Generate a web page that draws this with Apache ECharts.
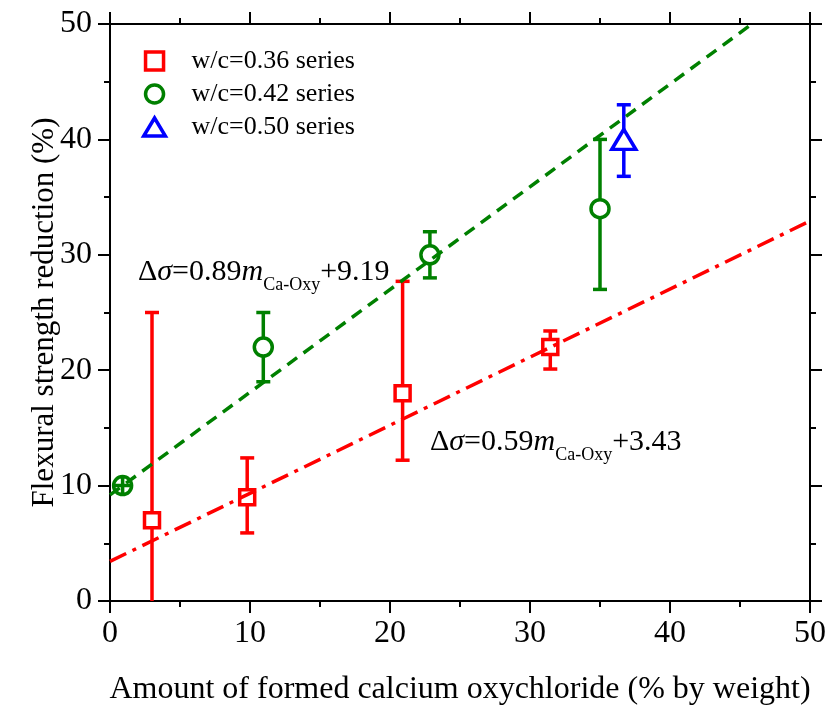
<!DOCTYPE html>
<html>
<head>
<meta charset="utf-8">
<script src="https://cdn.jsdelivr.net/npm/echarts@6/dist/echarts.min.js"></script>
<style>html,body{margin:0;padding:0;background:#fff}#c{width:840px;height:705px}</style>
</head>
<body>
<div id="c"></div>
<script>
// ---- data ----
const seriesNames = ['w/c=0.36 series', 'w/c=0.42 series', 'w/c=0.50 series'];
const redX    = [3.0, 9.8, 20.9, 31.45];
const redY    = [7.0, 9.0, 18.0, 22.0];
const redLow  = [0.0, 5.9, 12.2, 20.1];
const redHigh = [25.0, 12.4, 27.7, 23.4];
const greenX    = [0.9, 10.95, 22.85, 35.0];
const greenY    = [10.0, 22.0, 30.0, 34.0];
const greenLow  = [10.0, 19.0, 28.0, 27.0];
const greenHigh = [10.0, 25.0, 32.0, 40.0];
const blueX    = [36.7];
const blueY    = [40.0];
const blueLow  = [36.8];
const blueHigh = [43.0];
// fit lines (end points of the drawn regression lines)
const greenFit = [[0, 9.19], [45.85, 50]];
const redFit   = [[0, 3.43], [50, 32.93]];
const eqGreen = ['0.89', '9.19'];
const eqRed   = ['0.59', '3.43'];
const xTickMin = 0, xTickMax = 50, xTickStep = 10;
const yTickMin = 0, yTickMax = 50, yTickStep = 10;

const FONT = 'Liberation Serif';
const RED = '#ff0000', GREEN = '#008000', BLUE = '#0000ff';

function pts(xs, ys) { return xs.map((x, i) => [x, ys[i]]); }
function errs(xs, lo, hi) { return xs.map((x, i) => [x, lo[i], hi[i]]); }

function errRender(color) {
  return function (params, api) {
    const x = api.value(0), lo = api.value(1), hi = api.value(2);
    const a = api.coord([x, lo]), b = api.coord([x, hi]);
    const cap = 7;
    const st = { stroke: color, lineWidth: 3.5, fill: null };
    const ch = [
      { type: 'line', shape: { x1: a[0], y1: a[1], x2: b[0], y2: b[1] }, style: st },
      { type: 'line', shape: { x1: b[0] - cap, y1: b[1], x2: b[0] + cap, y2: b[1] }, style: st }
    ];
    if (lo > yTickMin) ch.push({ type: 'line', shape: { x1: a[0] - cap, y1: a[1], x2: a[0] + cap, y2: a[1] }, style: st });
    return { type: 'group', children: ch };
  };
}

const axisCommon = {
  type: 'value',
  nameMoveOverlap: false,
  axisLine: { show: true, onZero: false, lineStyle: { color: '#000', width: 2 } },
  axisTick: { show: true, inside: false, length: 12, lineStyle: { color: '#000', width: 2 } },
  minorTick: { show: true, splitNumber: 2, length: 6, lineStyle: { color: '#000', width: 2 } },
  splitLine: { show: false },
  minorSplitLine: { show: false }
};
const lab = { show: true, color: '#000', fontFamily: FONT, fontSize: 32 };

const circlePlus = 'path://M0,10 A10,10 0 1,1 20,10 A10,10 0 1,1 0,10 Z M10,0 L10,20 M0,10 L20,10';

const greenData = pts(greenX, greenY).map((p, i) => i === 0 ? { value: p, symbol: circlePlus } : p);

const option = {
  animation: false,
  backgroundColor: '#fff',
  grid: { left: 110, right: 30, top: 24, bottom: 104, containLabel: false, outerBoundsMode: 'none' },
  xAxis: [
    Object.assign({}, axisCommon, {
      min: xTickMin, max: xTickMax, interval: xTickStep, position: 'bottom',
      axisLabel: Object.assign({}, lab, { margin: 17 }),
      name: 'Amount of formed calcium oxychloride (% by weight)', nameLocation: 'middle', nameGap: 73,
      nameTextStyle: { color: '#000', fontFamily: FONT, fontSize: 32 }
    }),
    Object.assign({}, axisCommon, {
      min: xTickMin, max: xTickMax, interval: xTickStep, position: 'top', axisLabel: { show: false }
    })
  ],
  yAxis: [
    Object.assign({}, axisCommon, {
      min: yTickMin, max: yTickMax, interval: yTickStep, position: 'left',
      axisLabel: Object.assign({}, lab, { margin: 18 }),
      name: 'Flexural strength reduction (%)', nameLocation: 'middle', nameGap: 50,
      nameTextStyle: { color: '#000', fontFamily: FONT, fontSize: 31 }
    }),
    Object.assign({}, axisCommon, {
      min: yTickMin, max: yTickMax, interval: yTickStep, position: 'right', axisLabel: { show: false }
    })
  ],
  legend: {
    orient: 'vertical', left: 137, top: 43,
    itemWidth: 64, itemHeight: 18, itemGap: 7,
    textStyle: { color: '#000', fontFamily: FONT, fontSize: 26, lineHeight: 26 },
    itemStyle: { borderWidth: 3.5 },
    data: [
      { name: seriesNames[0], icon: 'path://M0,0 L16,0 L16,16 L0,16 Z' },
      { name: seriesNames[1], icon: 'circle' },
      { name: seriesNames[2], icon: 'path://M0,20 L12,0 L24,20 Z' }
    ]
  },
  series: [
    { type: 'custom', name: seriesNames[0] + ' err', clip: true, z: 2, renderItem: errRender(RED), data: errs(redX, redLow, redHigh), silent: true },
    { type: 'custom', name: seriesNames[1] + ' err', clip: true, z: 2, renderItem: errRender(GREEN), data: errs(greenX, greenLow, greenHigh), silent: true },
    { type: 'custom', name: seriesNames[2] + ' err', clip: true, z: 2, renderItem: errRender(BLUE), data: errs(blueX, blueLow, blueHigh), silent: true },
    { type: 'scatter', name: seriesNames[0], z: 3, symbol: 'rect', symbolSize: 15, data: pts(redX, redY),
      itemStyle: { color: '#fff', borderColor: RED, borderWidth: 3.5, opacity: 1 } },
    { type: 'scatter', name: seriesNames[1], z: 3, symbol: 'circle', symbolSize: 18, data: greenData,
      itemStyle: { color: '#fff', borderColor: GREEN, borderWidth: 3.5, opacity: 1 } },
    { type: 'scatter', name: seriesNames[2], z: 3, symbol: 'triangle', symbolSize: [24, 20], data: pts(blueX, blueY),
      itemStyle: { color: '#fff', borderColor: BLUE, borderWidth: 3.5, opacity: 1 } },
    { type: 'line', name: 'fit 0.42', z: 4, data: greenFit, showSymbol: false, symbol: 'none', silent: true,
      lineStyle: { color: GREEN, width: 3.5, type: [12, 8] } },
    { type: 'line', name: 'fit 0.36', z: 4, data: redFit, showSymbol: false, symbol: 'none', silent: true,
      lineStyle: { color: RED, width: 3.5, type: [18, 7, 4, 7] } }
  ],
  graphic: [
    makeEq(138, 273, eqGreen),
    makeEq(430, 443, eqRed)
  ]
};

function makeEq(x, y, eq) {
  return {
    type: 'text', left: x, top: y - 22, z: 10,
    style: {
      text: '{n|Δ}{i|σ}{n|=' + eq[0] + '}{i|m}{s|Ca-Oxy}{n|+' + eq[1] + '}',
      fill: '#000',
      rich: {
        n: { fontFamily: FONT, fontSize: 30, lineHeight: 34, verticalAlign: 'middle', color: '#000' },
        i: { fontFamily: FONT, fontSize: 30, fontStyle: 'italic', lineHeight: 34, verticalAlign: 'middle', color: '#000' },
        s: { fontFamily: FONT, fontSize: 18, lineHeight: 18, padding: [25, 0, 0, 0], verticalAlign: 'middle', color: '#000' }
      }
    }
  };
}

const chart = echarts.init(document.getElementById('c'), null, { renderer: 'canvas' });
chart.setOption(option);
</script>
</body>
</html>
